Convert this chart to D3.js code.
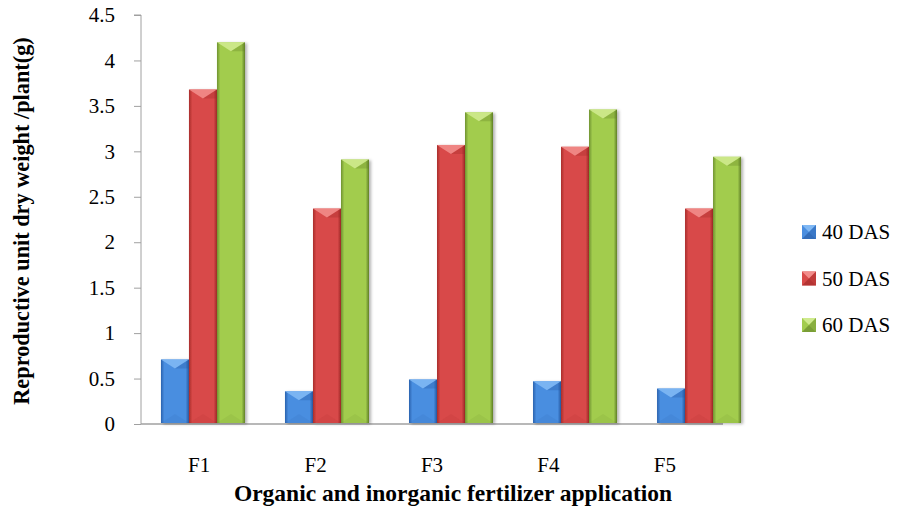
<!DOCTYPE html>
<html>
<head>
<meta charset="utf-8">
<script src="https://cdn.jsdelivr.net/npm/d3@7"></script>
<style>
  body { margin: 0; background: #fff; }
  .axis path, .axis line { stroke: #a0a0a0; }
</style>
</head>
<body>
<script>
// data
var categories = ["F1", "F2", "F3", "F4", "F5"];
var seriesNames = ["40 DAS", "50 DAS", "60 DAS"];
var das40 = [0.71, 0.36, 0.49, 0.47, 0.39];
var das50 = [3.68, 2.37, 3.07, 3.05, 2.37];
var das60 = [4.2, 2.91, 3.43, 3.46, 2.94];
var yTicks = [0, 0.5, 1, 1.5, 2, 2.5, 3, 3.5, 4, 4.5];

var allSeries = [das40, das50, das60];
var serif = "Liberation Serif";
// body, dark edge, light facet
var palette = [
  {mid: "#4a8ee0", edge: "#2a62ae", light: "#80b8f4", dark: "#2457a0"},
  {mid: "#d84a48", edge: "#a82c2b", light: "#f28c8a", dark: "#9c2726"},
  {mid: "#a2cc4e", edge: "#6f9230", light: "#cfea8e", dark: "#5f7f26"}
];

var W = 911, H = 530;
var svg = d3.select("body").append("svg").attr("width", W).attr("height", H)
  .attr("font-family", serif);
var defs = svg.append("defs");

var f = defs.append("filter").attr("id", "shadow")
  .attr("x", "-20%").attr("y", "-5%").attr("width", "150%").attr("height", "110%");
f.append("feDropShadow").attr("dx", 2).attr("dy", 1).attr("stdDeviation", 1.5)
  .attr("flood-color", "#000").attr("flood-opacity", 0.3);

palette.forEach(function(c, i){
  var g = defs.append("linearGradient").attr("id", "body" + i)
    .attr("x1", "0").attr("x2", "1").attr("y1", "0").attr("y2", "0");
  g.append("stop").attr("offset", "0").attr("stop-color", c.edge);
  g.append("stop").attr("offset", "0.12").attr("stop-color", c.mid);
  g.append("stop").attr("offset", "0.88").attr("stop-color", c.mid);
  g.append("stop").attr("offset", "1").attr("stop-color", c.dark);
});

var plotLeft = 141, plotRight = 723, plotTop = 15, plotBottom = 424;

var y = d3.scaleLinear().domain([0, 4.5]).range([plotBottom, plotTop]);

// category axis on the front plane
var xAxisScale = d3.scaleBand().domain(categories).range([plotLeft, plotRight]);
// bars sit in a slightly wider (perspective) plane
var xBars = d3.scaleBand().domain(categories).range([plotLeft, 761])
  .paddingInner(0.3226).paddingOuter(0.161);
var xSeries = d3.scaleBand().domain(d3.range(3)).range([0, xBars.bandwidth()]);

// axes
svg.append("g").attr("class", "axis")
  .attr("transform", "translate(" + plotLeft + ",0)")
  .call(d3.axisLeft(y).tickValues(yTicks).tickSize(7).tickPadding(19).tickFormat(d3.format("")))
  .attr("font-family", serif).attr("font-size", 21)
  .call(function(g){ g.select(".domain").attr("d", "M-7," + plotTop + "H0V" + plotBottom); })
  .selectAll("text").attr("fill", "#000");

svg.append("g").attr("class", "axis")
  .attr("transform", "translate(0," + plotBottom + ")")
  .call(d3.axisBottom(xAxisScale).tickSize(0).tickPadding(33))
  .attr("font-family", serif).attr("font-size", 21)
  .call(function(g){ g.select(".domain").attr("d", "M" + plotLeft + ",0H" + plotRight).attr("stroke-width", 1.5); })
  .selectAll("text").attr("fill", "#000");

// bars
function bevelBar(g, x0, w, top, bottom, c, i) {
  var h = bottom - top;
  var b = Math.min(9, h / 2);
  var xm = x0 + w / 2;
  g.append("rect").attr("x", x0).attr("y", top).attr("width", w).attr("height", h)
    .attr("fill", "url(#body" + i + ")").attr("filter", "url(#shadow)");
  // top bevel
  g.append("path").attr("d", "M" + x0 + "," + top + "L" + (x0 + w) + "," + top + "L" + xm + "," + (top + b) + "Z")
    .attr("fill", c.light).attr("opacity", 0.9);
  g.append("path").attr("d", "M" + (x0 + w) + "," + top + "L" + xm + "," + (top + b) + "L" + (x0 + w) + "," + (top + b) + "Z")
    .attr("fill", c.dark).attr("opacity", 0.3);
  // faint bottom bevel
  g.append("path").attr("d", "M" + x0 + "," + bottom + "L" + (x0 + w) + "," + bottom + "L" + xm + "," + (bottom - b) + "Z")
    .attr("fill", c.dark).attr("opacity", 0.1);
}

var barsG = svg.append("g");
categories.forEach(function(cat, ci){
  allSeries.forEach(function(vals, si){
    var x0 = xBars(cat) + xSeries(si);
    bevelBar(barsG, x0, xSeries.bandwidth(), y(vals[ci]), y(0) - 1, palette[si], si);
  });
});

// legend
var legY = d3.scalePoint().domain(seriesNames).range([232, 325]);
var leg = svg.append("g");
seriesNames.forEach(function(name, i){
  var cy = legY(name), s = 14, lx = 802, ly = cy - s / 2;
  var c = palette[i];
  leg.append("rect").attr("x", lx).attr("y", ly).attr("width", s).attr("height", s).attr("fill", c.mid);
  leg.append("path").attr("d", "M" + lx + "," + ly + "L" + (lx + s) + "," + ly + "L" + (lx + s / 2) + "," + (ly + s / 2) + "Z").attr("fill", c.light);
  leg.append("path").attr("d", "M" + lx + "," + (ly + s) + "L" + (lx + s) + "," + (ly + s) + "L" + (lx + s / 2) + "," + (ly + s / 2) + "Z").attr("fill", c.dark).attr("opacity", 0.6);
  leg.append("path").attr("d", "M" + (lx + s) + "," + ly + "L" + (lx + s) + "," + (ly + s) + "L" + (lx + s / 2) + "," + (ly + s / 2) + "Z").attr("fill", c.edge).attr("opacity", 0.5);
  leg.append("text").attr("x", 822).attr("y", cy).attr("dy", "0.35em")
    .attr("font-family", serif).attr("font-size", 21).text(name);
});

// axis titles
svg.append("text").attr("x", 453).attr("y", 501).attr("text-anchor", "middle")
  .attr("font-family", serif).attr("font-size", 23.5).attr("font-weight", "bold")
  .text("Organic and inorganic fertilizer application");

svg.append("text").attr("transform", "translate(29,221) rotate(-90)").attr("text-anchor", "middle")
  .attr("font-family", serif).attr("font-size", 22.3).attr("font-weight", "bold")
  .text("Reproductive unit dry weight /plant(g)");
</script>
</body>
</html>
